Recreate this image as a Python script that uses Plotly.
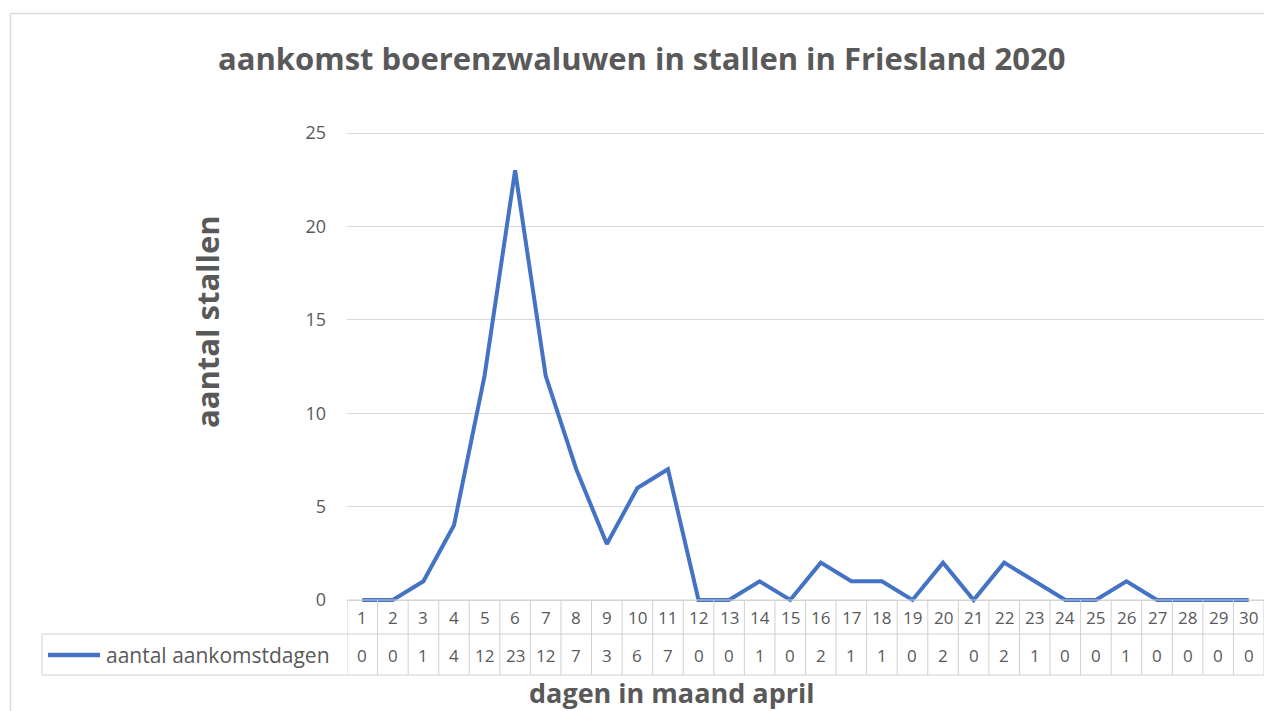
import plotly.graph_objects as go

# ---- data ----
days = list(range(1, 31))
day_labels = [str(d) for d in days]
counts = [0, 0, 1, 4, 12, 23, 12, 7, 3, 6, 7, 0, 0, 1, 0, 2, 1, 1, 0, 2, 0, 2, 1, 0, 0, 1, 0, 0, 0, 0]
series_name = "aantal aankomstdagen"
chart_title = "aankomst boerenzwaluwen in stallen in Friesland 2020"
y_title = "aantal stallen"
x_title = "dagen in maand april"
y_ticks = [0, 5, 10, 15, 20, 25]

# ---- layout helpers (page pixel -> paper) ----
W, H = 1264, 711
def px(p):
    return p / W
def py(p):
    return 1 - p / H

LINE = "#4472C4"
TXT = "#595959"
GRID = "#D9D9D9"
FONT = "Open Sans"

unit = (600 - 133) / 25.0
pad = 0.6
y_bot = 600 + pad * unit
y_top = 133 - pad * unit

fig = go.Figure()
fig.add_trace(go.Scatter(
    x=days, y=counts, mode="lines", name=series_name,
    line=dict(color=LINE, width=4), showlegend=False, hoverinfo="skip",
))

shapes = []
# outer chart border
shapes.append(dict(type="rect", xref="paper", yref="paper",
                   x0=px(10.5), x1=1.05, y0=-0.05, y1=py(13.5),
                   line=dict(color=GRID, width=1.5), fillcolor="rgba(0,0,0,0)", layer="below"))

row_top, row_mid, row_bot = 600, 634, 675
tcol = "#D0D0D0"
# horizontal table lines
shapes.append(dict(type="line", xref="x", yref="paper", x0=0.5, x1=len(days) + 0.5,
                   y0=py(row_top), y1=py(row_top), line=dict(color=tcol, width=1)))
for yy in (row_mid, row_bot):
    shapes.append(dict(type="line", xref="paper", yref="paper", x0=px(42), x1=1,
                       y0=py(yy), y1=py(yy), line=dict(color=tcol, width=1)))
# vertical table lines
shapes.append(dict(type="line", xref="paper", yref="paper", x0=px(42), x1=px(42),
                   y0=py(row_mid), y1=py(row_bot), line=dict(color=tcol, width=1)))
for i in range(len(days) + 1):
    shapes.append(dict(type="line", xref="x", yref="paper", x0=i + 0.5, x1=i + 0.5,
                       y0=py(row_top), y1=py(row_bot), line=dict(color=tcol, width=1)))
# legend key
shapes.append(dict(type="line", xref="paper", yref="paper", x0=px(48), x1=px(100),
                   y0=py(655), y1=py(655), line=dict(color=LINE, width=4.5)))

annotations = []
for d, lab, v in zip(days, day_labels, counts):
    annotations.append(dict(x=d, y=py(617), xref="x", yref="paper", text=lab,
                            xanchor="center", yanchor="middle",
                            showarrow=False, font=dict(family=FONT, size=17, color=TXT)))
    annotations.append(dict(x=d, y=py(655), xref="x", yref="paper", text=str(v),
                            xanchor="center", yanchor="middle",
                            showarrow=False, font=dict(family=FONT, size=17, color=TXT)))
annotations.append(dict(x=px(104), y=py(655), xref="paper", yref="paper", text=series_name,
                        xanchor="left", yanchor="middle", showarrow=False,
                        font=dict(family=FONT, size=21, color=TXT)))
annotations.append(dict(x=px(641), y=py(58), xref="paper", yref="paper", text="<b>" + chart_title + "</b>",
                        xanchor="center", yanchor="middle",
                        showarrow=False, font=dict(family=FONT, size=31, color=TXT)))
annotations.append(dict(x=px(671), y=py(692), xref="paper", yref="paper", text="<b>" + x_title + "</b>",
                        xanchor="center", yanchor="middle",
                        showarrow=False, font=dict(family=FONT, size=27, color=TXT)))
annotations.append(dict(x=px(207), y=py(322), xref="paper", yref="paper", text="<b>" + y_title + "</b>",
                        xanchor="center", yanchor="middle",
                        textangle=-90, showarrow=False, font=dict(family=FONT, size=31, color=TXT)))

fig.update_layout(
    width=W, height=H, margin=dict(l=0, r=0, t=0, b=0),
    paper_bgcolor="white", plot_bgcolor="white",
    font=dict(family=FONT, color=TXT),
    shapes=shapes, annotations=annotations,
    xaxis=dict(domain=[px(347), 1], range=[0.5, len(days) + 0.5], showgrid=False,
               showticklabels=False, zeroline=False, showline=False, ticks=""),
    yaxis=dict(domain=[py(y_bot), py(y_top)], range=[-pad, 25 + pad], tickvals=y_ticks,
               showgrid=True, gridcolor=GRID, gridwidth=1, zeroline=False, showline=False,
               ticks="", ticklabelstandoff=20, tickfont=dict(family=FONT, size=18, color=TXT)),
)

fig.write_html("out.html", config={"displayModeBar": False},
               post_script="document.body.style.margin='0';document.body.style.overflow='hidden';")
